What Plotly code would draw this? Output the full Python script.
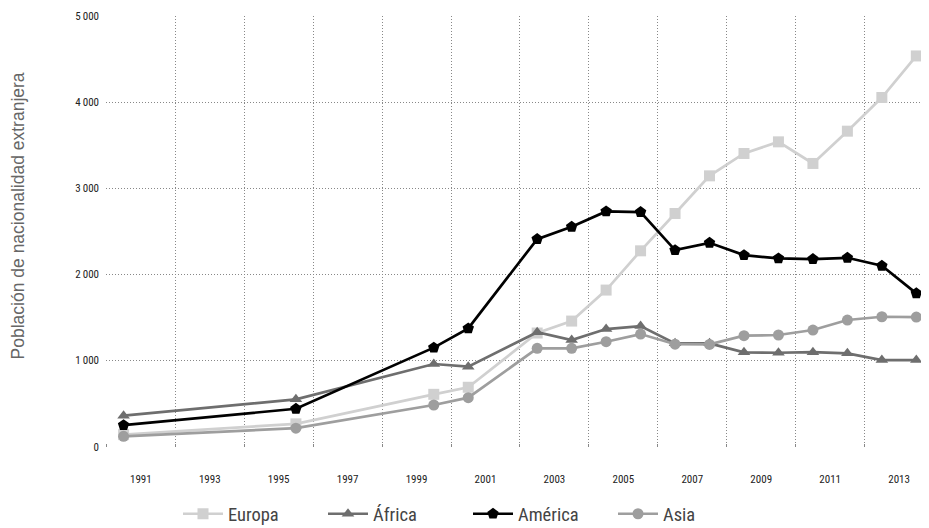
import plotly.graph_objects as go

years = [1991, 1996, 2000, 2001, 2003, 2004, 2005, 2006, 2007, 2008, 2009, 2010, 2011, 2012, 2013, 2014]
europa = [140, 265, 608, 690, 1320, 1459, 1819, 2275, 2709, 3146, 3406, 3541, 3290, 3665, 4056, 4539]
africa = [360, 550, 960, 929, 1330, 1239, 1366, 1401, 1200, 1200, 1096, 1091, 1098, 1084, 1006, 1006]
america = [250, 440, 1150, 1374, 2411, 2554, 2733, 2725, 2283, 2368, 2225, 2187, 2179, 2194, 2101, 1781]
asia = [120, 215, 484, 569, 1142, 1142, 1219, 1308, 1190, 1188, 1289, 1297, 1355, 1471, 1509, 1505]

tick_labels = ["1991", "1993", "1995", "1997", "1999", "2001", "2003", "2005", "2007", "2009", "2011", "2013"]
tick_pos = [1991.5 + 2 * i for i in range(len(tick_labels))]
grid_pos = [1990.5 + 2 * i for i in range(13)]
y_ticks = [0, 1000, 2000, 3000, 4000, 5000]
y_labels = ["0", "1\u2009000", "2\u2009000", "3\u2009000", "4\u2009000", "5\u2009000"]

NARROW = "Liberation Sans Narrow, Arial Narrow, Roboto Condensed, sans-serif"

series = [
    ("Europa", europa, "#d0d0d0", "square", 11),
    ("África", africa, "#6e6e6e", "triangle-up", 11),
    ("América", america, "#000000", "pentagon", 12),
    ("Asia", asia, "#9e9e9e", "circle", 11),
]

fig = go.Figure()
for name, vals, col, sym, sz in series:
    fig.add_trace(go.Scatter(
        x=years, y=vals, name=name, mode="lines+markers",
        line=dict(color=col, width=2.7),
        marker=dict(symbol=sym, size=sz, color=col),
        cliponaxis=False,
    ))

PLOT_W = 929 - 98

fig.update_layout(
    width=929, height=528,
    margin=dict(l=98, r=0, t=8, b=89, autoexpand=False),
    plot_bgcolor="white", paper_bgcolor="white",
    font=dict(family=NARROW, color="#222"),
    showlegend=True,
    legend=dict(
        orientation="h", x=72 / PLOT_W, xanchor="left", y=-0.156, yanchor="middle",
        font=dict(family=NARROW, size=18.5, color="#444"),
        itemwidth=40, entrywidth=90, entrywidthmode="pixels",
        traceorder="normal",
    ),
    xaxis=dict(
        range=[1990.49, 2014.6],
        tickmode="array", tickvals=tick_pos, ticktext=tick_labels,
        showgrid=False, zeroline=False, showline=False,
        ticks="", ticklabelstandoff=24,
        tickfont=dict(family=NARROW, size=11, color="#222"),
        minor=dict(tickmode="array", tickvals=grid_pos, showgrid=True,
                   gridcolor="#888", griddash="1px,2px", gridwidth=1,
                   ticks="inside", ticklen=3, tickcolor="#888"),
    ),
    yaxis=dict(
        range=[-4, 5003],
        tickmode="array", tickvals=y_ticks, ticktext=y_labels,
        showgrid=True, gridcolor="#888", griddash="1px,2px", gridwidth=1,
        zeroline=False, showline=False, ticks="", ticklabelstandoff=6,
        tickfont=dict(family=NARROW, size=11, color="#222"),
    ),
    annotations=[dict(
        text="Población de nacionalidad extranjera",
        xref="paper", yref="paper", x=-88 / PLOT_W, y=0.535,
        xanchor="center", yanchor="middle", textangle=-90, showarrow=False,
        font=dict(family="Liberation Sans, Arial, sans-serif", size=17.5, color="#666"),
    )],
)

fig.write_html("out.html")
